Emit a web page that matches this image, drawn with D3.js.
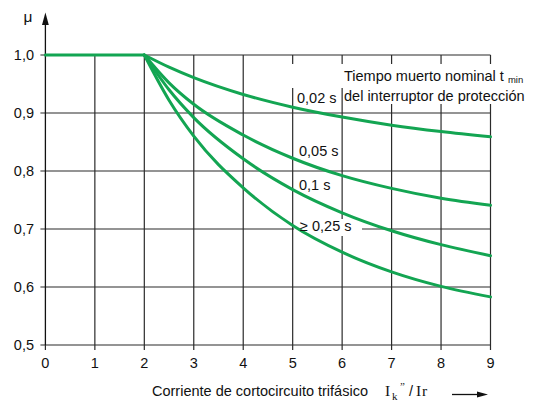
<!DOCTYPE html>
<html>
<head>
<meta charset="utf-8">
<script src="https://cdn.jsdelivr.net/npm/d3@7"></script>
<style>
  html, body { margin: 0; padding: 0; background: #fff; }
  svg { display: block; }
  text { font-family: Arial, "Liberation Sans", sans-serif; fill: #111; }
</style>
</head>
<body>
<svg id="chart" width="534" height="402"></svg>
<script>
// ---- data ----
const xTicks = [0, 1, 2, 3, 4, 5, 6, 7, 8, 9];
const xTickLabels = ["0", "1", "2", "3", "4", "5", "6", "7", "8", "9"];
const yTicks = [0.5, 0.6, 0.7, 0.8, 0.9, 1.0];
const yTickLabels = ["0,5", "0,6", "0,7", "0,8", "0,9", "1,0"];

const flatX = [0, 2];
const flatMu = [1.0, 1.0];

const curveX = [2, 2.5, 3, 4, 5, 6, 7, 8, 9];
const mu002 = [1.0, 0.979, 0.961, 0.932, 0.910, 0.893, 0.879, 0.868, 0.859];
const mu005 = [1.0, 0.952, 0.915, 0.862, 0.822, 0.792, 0.770, 0.753, 0.741];
const mu01  = [1.0, 0.940, 0.892, 0.821, 0.768, 0.728, 0.697, 0.673, 0.654];
const mu025 = [1.0, 0.922, 0.860, 0.771, 0.706, 0.660, 0.626, 0.601, 0.583];
const seriesNames = ["0,02 s", "0,05 s", "0,1 s", "\u2265 0,25 s"];

// ---- layout ----
const svg = d3.select("#chart");
const x = d3.scaleLinear().domain([0, 9]).range([45.4, 490.5]);
const y = d3.scaleLinear().domain([0.5, 1.0]).range([345, 55]);
const GRID = "#2b2b2b";
const GREEN = "#13a552";
const FS = 14.5;

// grid: vertical lines
svg.append("g").selectAll("line").data(xTicks.filter(d => d > 0)).join("line")
  .attr("x1", d => x(d)).attr("x2", d => x(d))
  .attr("y1", y(1.0)).attr("y2", y(0.5) + 5)
  .attr("stroke", GRID).attr("stroke-width", 1.2);
// grid: horizontal lines
svg.append("g").selectAll("line").data(yTicks).join("line")
  .attr("x1", x(0) - 5).attr("x2", x(9))
  .attr("y1", d => y(d)).attr("y2", d => y(d))
  .attr("stroke", GRID).attr("stroke-width", 1.2);
// x=0 tick below axis
svg.append("line").attr("x1", x(0)).attr("x2", x(0)).attr("y1", y(0.5)).attr("y2", y(0.5) + 5)
  .attr("stroke", GRID).attr("stroke-width", 1.2);
// y axis with arrow
svg.append("line").attr("x1", x(0)).attr("x2", x(0)).attr("y1", y(0.5)).attr("y2", 22)
  .attr("stroke", "#111").attr("stroke-width", 1.3);
svg.append("path").attr("d", `M${x(0)},12.5 L${x(0) - 3.4},25 L${x(0) + 3.4},25 Z`).attr("fill", "#111");

// white label backgrounds (hide grid lines behind text)
svg.append("rect").attr("x", 287).attr("y", 64).attr("width", 247).attr("height", 24).attr("fill", "#fff");
svg.append("rect").attr("x", 344).attr("y", 88).attr("width", 190).attr("height", 16).attr("fill", "#fff");
svg.append("rect").attr("x", 294).attr("y", 219).attr("width", 68).attr("height", 17).attr("fill", "#fff");

// curves
const line = d3.line().x(d => x(d[0])).y(d => y(d[1]));
const smooth = d3.line().x(d => x(d[0])).y(d => y(d[1])).curve(d3.curveMonotoneX);
svg.append("path").datum(flatX.map((v, i) => [v, flatMu[i]]))
  .attr("d", line).attr("fill", "none").attr("stroke", GREEN).attr("stroke-width", 3).attr("stroke-linecap", "round");
[mu002, mu005, mu01, mu025].forEach(arr => {
  svg.append("path").datum(curveX.map((v, i) => [v, arr[i]]))
    .attr("d", smooth).attr("fill", "none").attr("stroke", GREEN)
    .attr("stroke-width", 3).attr("stroke-linecap", "round").attr("stroke-linejoin", "round");
});

// tick labels
svg.append("g").selectAll("text").data(xTicks).join("text")
  .attr("x", d => x(d)).attr("y", 367.5).attr("text-anchor", "middle")
  .attr("font-size", FS).text((d, i) => xTickLabels[i]);
svg.append("g").selectAll("text").data(yTicks).join("text")
  .attr("x", 34).attr("y", d => y(d) + 5.2).attr("text-anchor", "end")
  .attr("font-size", FS).text((d, i) => yTickLabels[i]);

// y label
svg.append("text").attr("x", 23.5).attr("y", 22).attr("font-size", FS + 1).text("\u03bc");

// curve labels
const labelPos = [[297, 102.5], [299, 156], [299, 190], [300, 231]];
seriesNames.forEach((s, i) => {
  svg.append("text").attr("x", labelPos[i][0]).attr("y", labelPos[i][1]).attr("font-size", FS).text(s);
});

// legend title
const lt = svg.append("text").attr("x", 344).attr("y", 80.5).attr("font-size", FS);
lt.append("tspan").text("Tiempo muerto nominal t ");
lt.append("tspan").attr("font-size", 9.5).attr("dy", 2.5).text("min");
svg.append("text").attr("x", 344).attr("y", 100.5).attr("font-size", FS).text("del interruptor de protecci\u00f3n");

// x axis title
svg.append("text").attr("x", 152).attr("y", 396).attr("font-size", FS).text("Corriente de cortocircuito trif\u00e1sico");
const serif = '"Liberation Serif", "Times New Roman", serif';
const t2 = svg.append("text").attr("y", 396).attr("font-size", FS + 1).style("font-family", serif);
t2.append("tspan").attr("x", 385).text("I");
t2.append("tspan").attr("x", 392).attr("dy", 4).attr("font-size", 11).text("k");
t2.append("tspan").attr("x", 400).attr("dy", -10).attr("font-size", 11).text("\u201d");
t2.append("tspan").attr("x", 409).attr("dy", 6).style("font-family", "Arial, 'Liberation Sans', sans-serif").attr("font-size", FS).text("/");
t2.append("tspan").attr("x", 416).text("I");
t2.append("tspan").attr("x", 422).text("r");

// arrow at bottom right
svg.append("line").attr("x1", 452).attr("x2", 480).attr("y1", 394.5).attr("y2", 394.5)
  .attr("stroke", "#111").attr("stroke-width", 1.3);
svg.append("path").attr("d", "M488,394.5 L477,391.5 L477,397.5 Z").attr("fill", "#111");
</script>
</body>
</html>
